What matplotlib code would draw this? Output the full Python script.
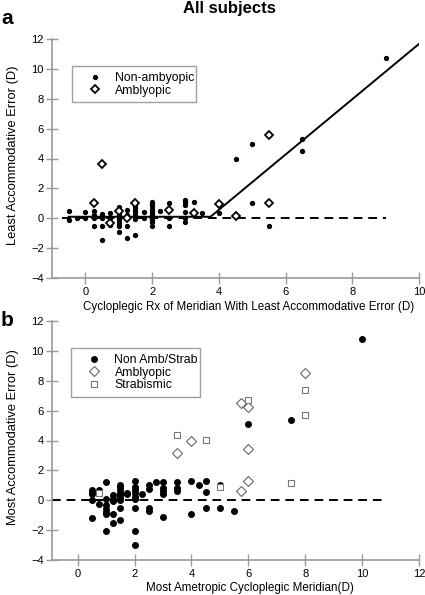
import numpy as np
import matplotlib
matplotlib.use('Agg')
import matplotlib.pyplot as plt

plt.rcParams['font.family'] = ['Liberation Sans', 'DejaVu Sans']

# panel a - non-amblyopic (x = cycloplegic Rx, y = least accommodative error)
a_dot_x = [-0.5, -0.5, -0.25, 0, 0,
           0.25, 0.25, 0.25, 0.25,
           0.5, 0.5, 0.5, 0.5, 0.5,
           0.75, 0.75, 0.75,
           1, 1, 1, 1, 1, 1, 1, 1, 1,
           1.25, 1.25, 1.25, 1.25, 1.25,
           1.5, 1.5, 1.5, 1.5, 1.5, 1.5, 1.5, 1.5, 1.5,
           1.75, 1.75,
           2, 2, 2, 2, 2, 2, 2, 2, 2, 2, 2,
           2.25, 2.5, 2.5, 2.5,
           3, 3, 3, 3, 3, 3,
           3.25, 3.5, 4, 4.5, 5, 5, 5.5, 6.5, 6.5, 9]
a_dot_y = [0.5, -0.1, 0.0, 0.4, 0.0,
           0.5, 0.25, 0.0, -0.5,
           0.3, 0.15, 0.0, -0.55, -1.45,
           0.35, 0.0, -0.45,
           0.75, 0.55, 0.35, 0.2, 0.0, -0.15, -0.35, -0.55, -0.9,
           0.55, 0.25, 0.05, -0.5, -1.35,
           1.0, 0.85, 0.7, 0.55, 0.4, 0.25, 0.1, -0.05, -1.1,
           0.45, 0.0,
           1.1, 0.95, 0.8, 0.65, 0.5, 0.35, 0.2, 0.05, -0.1, -0.25, -0.5,
           0.5, 1.0, 0.0, -0.5,
           1.25, 1.1, 0.9, 0.45, 0.0, -0.25,
           1.1, 0.35, 0.35, 4.0, 5.0, 1.05, -0.55, 5.3, 4.5, 10.7]

# panel a - amblyopic
a_amb_x = [0.25, 0.5, 0.75, 1, 1.25, 1.5, 2.5, 3.25, 4, 4.5, 5.5, 5.5]
a_amb_y = [1.0, 3.6, -0.3, 0.5, 0.0, 1.0, 0.55, 0.35, 0.95, 0.15, 1.0, 5.6]

# panel a - fitted two-segment line
fit_x = [-0.5, 3.75, 10]
fit_y = [0.1, 0.1, 11.67]

# panel b - non amblyopic / non strabismic
b_dot_x = [0.5, 0.5, 0.5, 0.5, 0.5,
           0.75, 0.75,
           1, 1, 1, 1, 1, 1, 1,
           1.25, 1.25, 1.25, 1.25, 1.25,
           1.5, 1.5, 1.5, 1.5, 1.5, 1.5, 1.5, 1.5, 1.5,
           1.75, 1.75,
           2, 2, 2, 2, 2, 2, 2, 2, 2,
           2.25, 2.5, 2.5, 2.5, 2.5, 2.75,
           3, 3, 3, 3, 3,
           3.5, 3.5, 3.5,
           4, 4, 4.25, 4.5, 4.5, 4.5, 5, 5, 5.5, 6, 7.5, 10]
b_dot_y = [0.7, 0.55, 0.4, 0.0, -1.2,
           0.7, -0.25,
           1.2, 0.1, -0.35, -0.6, -0.8, -0.95, -2.05,
           0.35, 0.1, -0.05, -0.95, -1.5,
           1.05, 0.9, 0.7, 0.5, 0.35, 0.2, 0.0, -0.55, -1.35,
           0.5, 0.45,
           1.3, 0.9, 0.7, 0.5, 0.2, 0.1, -0.55, -2.05, -3.0,
           0.4, 1.0, 0.75, -0.55, -0.75, 1.25,
           1.2, 0.8, 0.6, 0.45, -1.15,
           1.2, 0.8, 0.6,
           1.3, -0.95, 1.05, 1.3, 0.55, -0.55, 1.05, -0.55, -0.75, 5.1, 5.35, 10.8]

# panel b - amblyopic
b_amb_x = [3.5, 4, 5.75, 6, 6, 6, 5.75, 8]
b_amb_y = [3.15, 4.0, 6.5, 6.25, 3.4, 1.3, 0.6, 8.5]

# panel b - strabismic
b_str_x = [0.75, 3.5, 4.5, 5, 6, 7.5, 8, 8]
b_str_y = [0.5, 4.35, 4.05, 0.9, 6.7, 1.15, 7.4, 5.7]

W, H = 425, 595
fig = plt.figure(figsize=(W / 100, H / 100), dpi=100)
ax1 = fig.add_axes([52 / W, 1 - 278 / H, 367 / W, 239 / H])
ax2 = fig.add_axes([52 / W, 1 - 560 / H, 367 / W, 239 / H])

spine_col = '#9a9a9a'
for ax in (ax1, ax2):
    for s in ('top', 'right'):
        ax.spines[s].set_visible(False)
    for s in ('left', 'bottom'):
        ax.spines[s].set_color(spine_col)
        ax.spines[s].set_linewidth(1.2)
    ax.tick_params(direction='inout', length=8, width=1, color=spine_col,
                   labelsize=8)
    ax.tick_params(axis='x', pad=2.5)
    ax.tick_params(axis='y', pad=2)
    ax.set_ylim(-4, 12)
    ax.set_yticks(np.arange(-4, 13, 2))

leg_kw = dict(loc='upper left', mode='expand', fancybox=False,
              edgecolor='#888888', fontsize=8.8, handletextpad=0.3,
              labelspacing=0.05, borderpad=0.45, handlelength=2.8,
              borderaxespad=0)

# ---- panel a
ax1.set_xlim(-1, 10)
ax1.set_xticks(np.arange(0, 11, 2))
ax1.plot([-0.7, 9], [0, 0], color='black', lw=1.4, ls=(0, (4.5, 3)))
ax1.plot(fit_x, fit_y, color='black', lw=1.4)
ax1.plot(a_dot_x, a_dot_y, 'o', color='black', ms=2.8, label='Non-ambyopic')
ax1.plot(a_amb_x, a_amb_y, 'D', mfc='white', mec='black', mew=1.3, ms=4.5,
         label='Amblyopic')
leg1 = ax1.legend(bbox_to_anchor=(0.0545, 0.885, 0.338, 0.0), **leg_kw)
leg1.get_frame().set_linewidth(1)
ax1.set_ylabel('Least Accommodative Error (D)', fontsize=9.3)
ax1.yaxis.set_label_coords(-0.089, 0.515)

# ---- panel b
ax2.set_xlim(-0.9, 12)
ax2.set_xticks(np.arange(0, 13, 2))
ax2.plot([-0.9, 10.75], [0, 0], color='black', lw=1.4, ls=(0, (4.5, 3)))
ax2.plot(b_dot_x, b_dot_y, 'o', color='black', ms=4, label='Non Amb/Strab')
ax2.plot(b_amb_x, b_amb_y, 'D', mfc='white', mec='#666666', mew=0.8, ms=5,
         label='Amblyopic')
ax2.plot(b_str_x, b_str_y, 's', mfc='white', mec='#777777', mew=0.8, ms=5,
         label='Strabismic')
leg2 = ax2.legend(bbox_to_anchor=(0.052, 0.885, 0.351, 0.0), **leg_kw)
leg2.get_frame().set_linewidth(1)
ax2.set_ylabel('Most Accommodative Error (D)', fontsize=9.3)
ax2.yaxis.set_label_coords(-0.089, 0.515)

# labels and titles
fig.text(249 / W, 1 - 307 / H,
         'Cycloplegic Rx of Meridian With Least Accommodative Error (D)',
         ha='center', va='center', fontsize=8.4)
fig.text(250 / W, 1 - 588 / H, 'Most Ametropic Cycloplegic Meridian(D)',
         ha='center', va='center', fontsize=8.4)
fig.text(229 / W, 1 - 8 / H, 'All subjects', ha='center', va='center',
         fontsize=12, fontweight='bold')
fig.text(1 / W, 1 - 18 / H, 'a', ha='left', va='center', fontsize=15,
         fontweight='bold')
fig.text(1 / W, 1 - 320 / H, 'b', ha='left', va='center', fontsize=15,
         fontweight='bold')

fig.savefig('out.png', dpi=100)
